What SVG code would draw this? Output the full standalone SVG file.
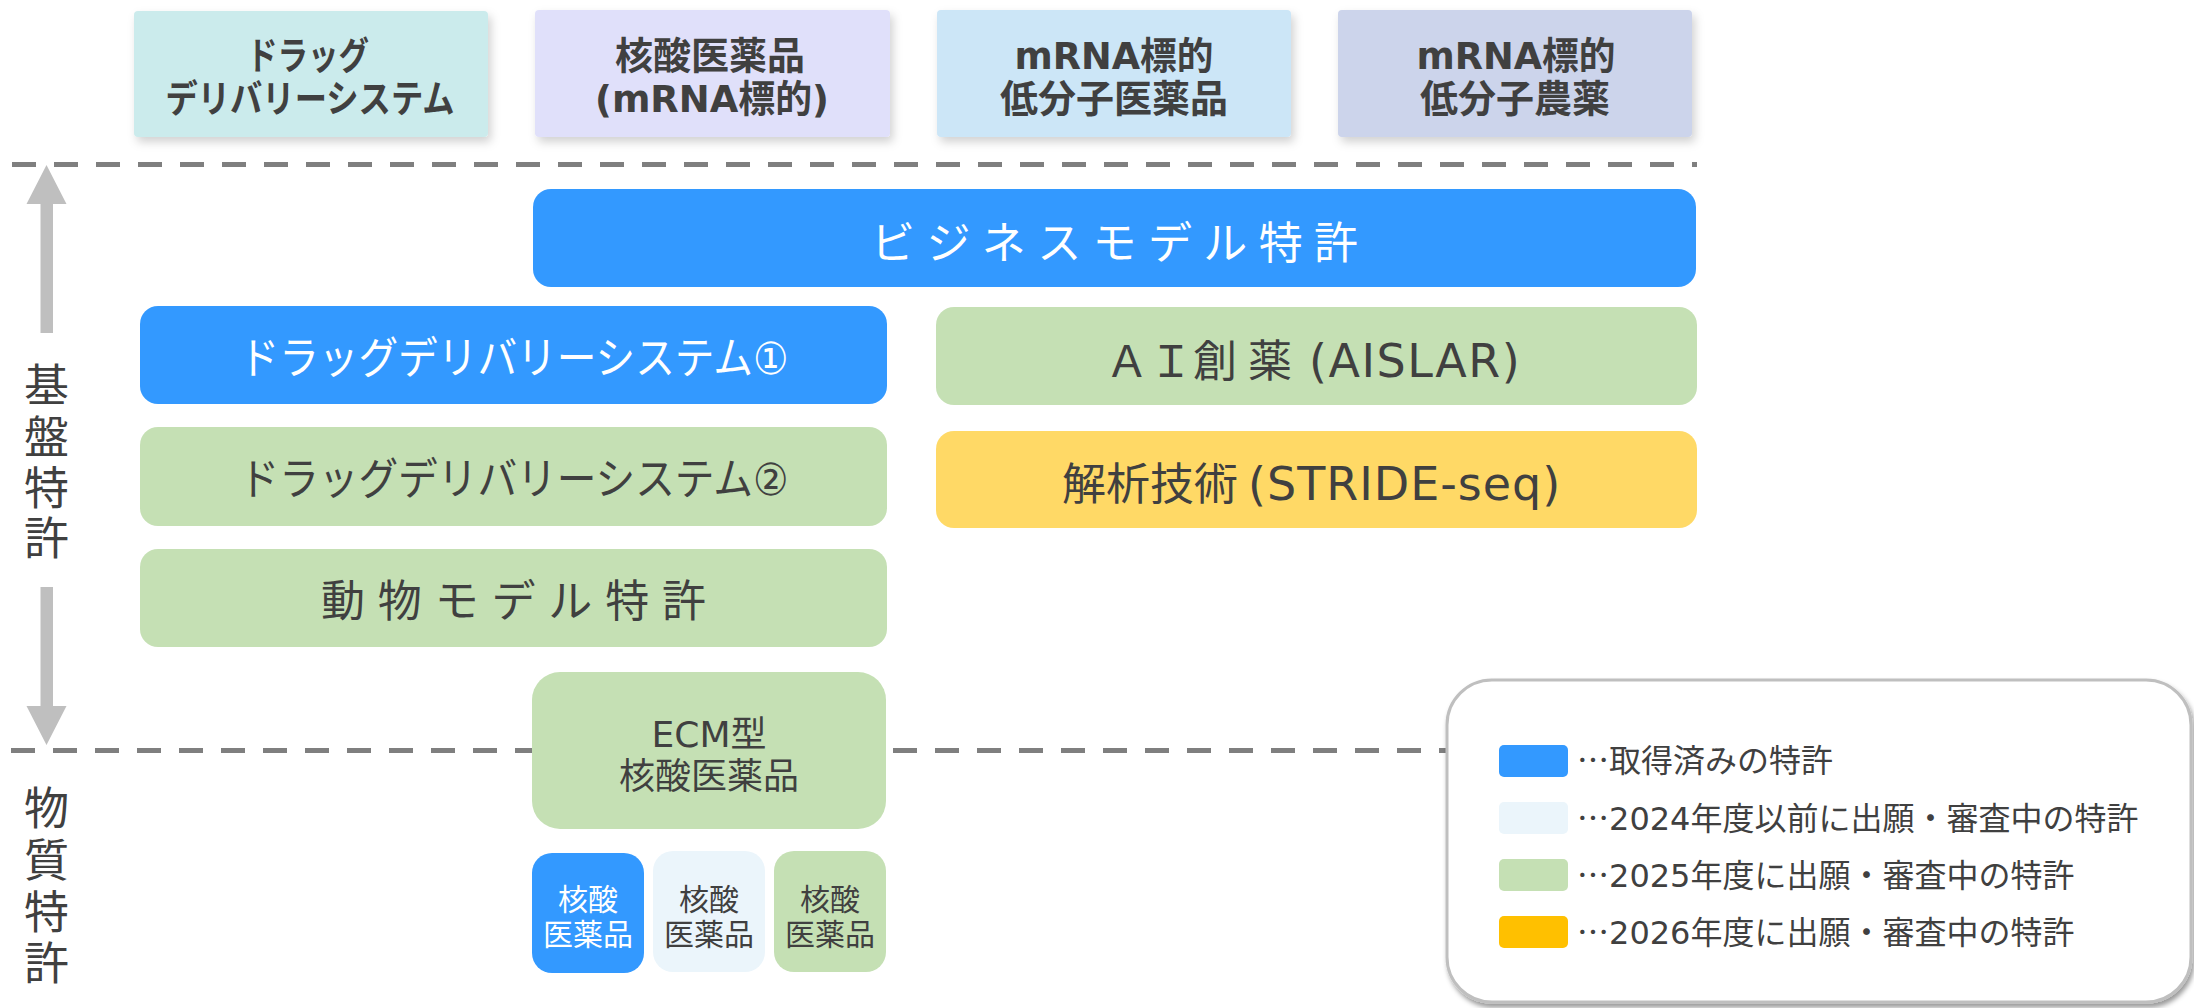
<svg xmlns="http://www.w3.org/2000/svg" width="2194" height="1008" viewBox="0 0 2194 1008">
<defs>
<filter id="sh" x="-10%" y="-15%" width="125%" height="145%"><feDropShadow dx="3" dy="5" stdDeviation="5" flood-color="#000" flood-opacity="0.18"/></filter>
<filter id="lsh" x="-5%" y="-5%" width="115%" height="120%"><feDropShadow dx="2" dy="4" stdDeviation="2.5" flood-color="#000" flood-opacity="0.4"/></filter>
<style>
.t{font-family:"DejaVu Sans","Noto Sans CJK JP",sans-serif;fill:#404040;text-anchor:middle}
.s{text-anchor:start}
.b{font-weight:bold;font-size:38px}
.m{font-size:44px}
.e{font-size:36px}
.sm{font-size:30px}
.l{font-size:32px}
.v{font-size:45px}
.w{fill:#fff}
.cjk{font-family:"Noto Sans CJK JP",sans-serif}
.dash{stroke:#7F7F7F;stroke-width:5;stroke-dasharray:24 18;fill:none}
.arr{fill:#BFBFBF}
.blue{fill:#3399FF}
.green{fill:#C5E0B4}
.yellow{fill:#FFD966}
.light{fill:#EBF5FB}
</style>
</defs>
<rect width="2194" height="1008" fill="#fff"/>

<g id="connectors">
<line class="dash" x1="12" y1="164.5" x2="1697" y2="164.5"/>
<line class="dash" x1="11" y1="750.5" x2="1448" y2="750.5"/>
<polygon class="arr" points="46.5,165 66.5,204 53,204 53,333 40.5,333 40.5,204 26.5,204"/>
<polygon class="arr" points="40.5,587 53,587 53,706 66.5,706 46.5,745 26.5,706 40.5,706"/>
</g>

<g id="label-kiban">
<text class="t v" x="46.5" y="402">基</text>
<text class="t v" x="46.5" y="454">盤</text>
<text class="t v" x="46.5" y="505">特</text>
<text class="t v" x="46.5" y="555">許</text>
</g>
<g id="label-busshitsu">
<text class="t v" x="46.5" y="825">物</text>
<text class="t v" x="46.5" y="877">質</text>
<text class="t v" x="46.5" y="929">特</text>
<text class="t v" x="46.5" y="980">許</text>
</g>

<g id="cat-dds">
<rect x="134" y="11" width="354" height="126" rx="4" fill="#CBEBEC" filter="url(#sh)"/>
<text class="t b" x="308" y="69" textLength="122" lengthAdjust="spacingAndGlyphs">ドラッグ</text>
<text class="t b" x="310" y="112" textLength="289" lengthAdjust="spacingAndGlyphs">デリバリーシステム</text>
</g>
<g id="cat-nucleic">
<rect x="535" y="10" width="355" height="127" rx="4" fill="#E0E0FA" filter="url(#sh)"/>
<text class="t b" x="710" y="69">核酸医薬品</text>
<text class="t b" x="712" y="112" textLength="234" lengthAdjust="spacingAndGlyphs">(mRNA標的)</text>
</g>
<g id="cat-smallmol">
<rect x="937" y="10" width="354" height="127" rx="4" fill="#CCE6F7" filter="url(#sh)"/>
<text class="t b" x="1114" y="69" textLength="199" lengthAdjust="spacingAndGlyphs">mRNA標的</text>
<text class="t b" x="1114" y="112">低分子医薬品</text>
</g>
<g id="cat-agro">
<rect x="1338" y="10" width="354" height="127" rx="4" fill="#CCD4EB" filter="url(#sh)"/>
<text class="t b" x="1516" y="69" textLength="199" lengthAdjust="spacingAndGlyphs">mRNA標的</text>
<text class="t b" x="1515" y="112">低分子農薬</text>
</g>

<g id="node-business">
<rect class="blue" x="533" y="189" width="1163" height="98" rx="18"/>
<text class="t m w" x="1114.5" y="259" textLength="487" lengthAdjust="spacing">ビジネスモデル特許</text>
</g>
<g id="node-dds1">
<rect class="blue" x="140" y="306" width="747" height="98" rx="18"/>
<text class="t m w" x="514" y="374" textLength="549" lengthAdjust="spacingAndGlyphs">ドラッグデリバリーシステム①</text>
</g>
<g id="node-dds2">
<rect class="green" x="140" y="427" width="747" height="99" rx="18"/>
<text class="t m" x="514" y="495" textLength="549" lengthAdjust="spacingAndGlyphs">ドラッグデリバリーシステム②</text>
</g>
<g id="node-animal">
<rect class="green" x="140" y="549" width="747" height="98" rx="18"/>
<text class="t m" x="513.5" y="617" textLength="385" lengthAdjust="spacing">動物モデル特許</text>
</g>
<g id="node-ai">
<rect class="green" x="936" y="307" width="761" height="98" rx="18"/>
<text class="t m s" x="1105" y="377"><tspan x="1105">ＡＩ創</tspan><tspan x="1248">薬 </tspan><tspan x="1309" style="font-size:46px;letter-spacing:1.5px">(AISLAR)</tspan></text>
</g>
<g id="node-stride">
<rect class="yellow" x="936" y="431" width="761" height="97" rx="18"/>
<text class="t m s" x="1062" y="500"><tspan x="1062">解析技術 </tspan><tspan x="1248" style="font-size:46px;letter-spacing:1px">(STRIDE-seq)</tspan></text>
</g>
<g id="node-ecm">
<rect class="green" x="532" y="672" width="354" height="157" rx="28"/>
<text class="t e" x="709" y="747">ECM型</text>
<text class="t e" x="709" y="789">核酸医薬品</text>
</g>
<g id="node-na1">
<rect class="blue" x="532" y="853" width="112" height="120" rx="20"/>
<text class="t sm w" x="588" y="909.5">核酸</text>
<text class="t sm w" x="588" y="944.5">医薬品</text>
</g>
<g id="node-na2">
<rect class="light" x="653" y="851" width="112" height="121" rx="20"/>
<text class="t sm" x="709" y="909.5">核酸</text>
<text class="t sm" x="709" y="944.5">医薬品</text>
</g>
<g id="node-na3">
<rect class="green" x="774" y="851" width="112" height="121" rx="20"/>
<text class="t sm" x="830" y="909.5">核酸</text>
<text class="t sm" x="830" y="944.5">医薬品</text>
</g>

<g id="legend">
<rect x="1447" y="680" width="744" height="322" rx="45" fill="#fff" stroke="#BFBFBF" stroke-width="3" filter="url(#lsh)"/>
<rect class="blue" x="1499" y="745" width="69" height="32" rx="5"/>
<rect class="light" x="1499" y="802" width="69" height="32" rx="5"/>
<rect class="green" x="1499" y="859" width="69" height="32" rx="5"/>
<rect x="1499" y="916" width="69" height="32" rx="5" fill="#FFC000"/>
<text class="t l s" x="1577" y="772"><tspan class="cjk">…</tspan>取得済みの特許</text>
<text class="t l s" x="1577" y="830"><tspan class="cjk">…</tspan>2024年度以前に出願・審査中の特許</text>
<text class="t l s" x="1577" y="887"><tspan class="cjk">…</tspan>2025年度に出願・審査中の特許</text>
<text class="t l s" x="1577" y="944"><tspan class="cjk">…</tspan>2026年度に出願・審査中の特許</text>
</g>
</svg>
